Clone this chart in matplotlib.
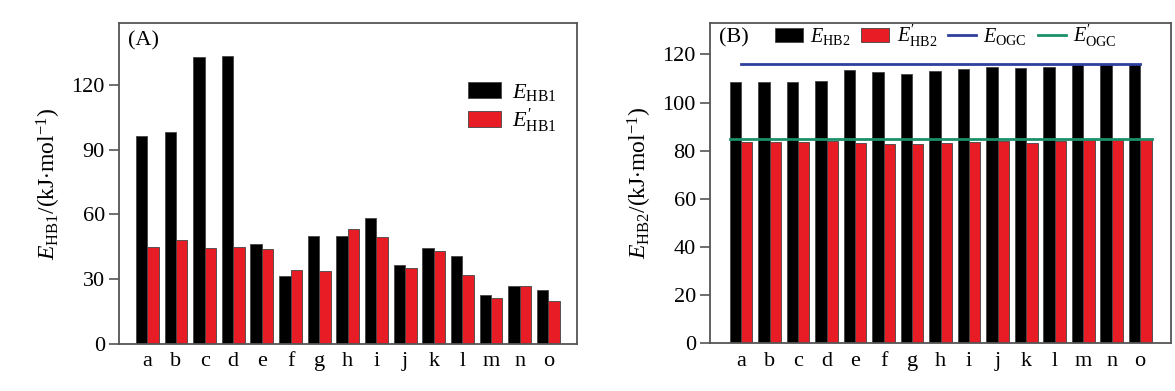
import numpy as np
import matplotlib
matplotlib.use("Agg")
import matplotlib.pyplot as plt

# categories shared by both panels
cats = list("abcdefghijklmno")

# panel (A): hydrogen bond 1 energies
e_hb1 = [96.3, 98.0, 132.8, 133.1, 46.5, 31.3, 49.9, 49.9, 58.4, 36.6, 44.6, 40.9, 22.5, 27.0, 25.0]
e_hb1_p = [44.8, 48.0, 44.5, 44.8, 44.2, 34.1, 33.7, 53.1, 49.4, 35.0, 43.2, 32.1, 21.5, 27.0, 19.9]

# panel (B): hydrogen bond 2 energies and reference levels
e_hb2 = [108.7, 108.6, 108.4, 109.1, 113.4, 112.6, 111.7, 113.2, 113.8, 114.9, 114.2, 114.9, 115.9, 115.9, 115.9]
e_hb2_p = [83.7, 83.7, 83.6, 83.9, 83.2, 82.6, 82.8, 83.2, 83.4, 83.9, 83.3, 83.9, 84.3, 84.3, 84.7]
e_ogc = 116.1
e_ogc_p = 84.7

yticks_a = [0, 30, 60, 90, 120]
yticks_b = [0, 20, 40, 60, 80, 100, 120]

# ---- style ----
plt.rcParams['font.family'] = ['Liberation Serif', 'DejaVu Serif']
plt.rcParams['mathtext.fontset'] = 'custom'
plt.rcParams['mathtext.rm'] = 'Liberation Serif'
plt.rcParams['mathtext.it'] = 'Liberation Serif:italic'
plt.rcParams['mathtext.bf'] = 'Liberation Serif:bold'
plt.rcParams['font.size'] = 16

BLACK = '#000000'
RED = '#e81c24'
EDGE = '#444444'
BLUE = '#2f3f9e'
GREEN = '#1a9068'
SPINE = '#555555'
FS = 16

fig = plt.figure(figsize=(11.75, 3.91), dpi=100)
axA = fig.add_axes([0.101, 0.120, 0.390, 0.821])
axB = fig.add_axes([0.604, 0.122, 0.393, 0.819])

x = np.arange(len(cats))
w = 0.4


def style_axes(ax):
    for s in ax.spines.values():
        s.set_color(SPINE)
        s.set_linewidth(1.3)
    ax.tick_params(axis='y', direction='out', length=7, width=1.2, color=SPINE, labelsize=FS, pad=3)
    ax.tick_params(axis='x', length=0, labelsize=FS, pad=6)
    ax.set_xticks(x)
    ax.set_xticklabels(cats)


# ---- panel A ----
axA.bar(x - w / 2, e_hb1, w, color=BLACK, edgecolor=EDGE, linewidth=0.6, label=r'$E_{\mathrm{HB1}}$')
axA.bar(x + w / 2, e_hb1_p, w, color=RED, edgecolor=EDGE, linewidth=0.6, label=r"$E^{\prime}_{\mathrm{HB1}}$")
axA.set_xlim(-1, 15)
axA.set_ylim(0, 148.5)
axA.set_yticks(yticks_a)
style_axes(axA)
axA.set_ylabel(r'$E_{\mathrm{HB1}}$/(kJ$\cdot$mol$^{-1}$)', fontsize=17, labelpad=6)
axA.text(0.02, 0.975, '(A)', transform=axA.transAxes, ha='left', va='top', fontsize=FS)
axA.legend(loc='upper right', bbox_to_anchor=(1.0, 0.88), frameon=False, fontsize=FS,
           handlelength=1.5, handleheight=0.7, handletextpad=0.5, labelspacing=0.15)

# ---- panel B ----
hb1 = axB.bar(x - w / 2, e_hb2, w, color=BLACK, edgecolor=EDGE, linewidth=0.6, label=r'$E_{\mathrm{HB2}}$')
hb2 = axB.bar(x + w / 2, e_hb2_p, w, color=RED, edgecolor=EDGE, linewidth=0.6, label=r"$E^{\prime}_{\mathrm{HB2}}$")
l1, = axB.plot([x[0], x[-1]], [e_ogc, e_ogc], color=BLUE, lw=2, label=r'$E_{\mathrm{OGC}}$')
l2, = axB.plot([x[0] - w, x[-1] + w], [e_ogc_p, e_ogc_p], color=GREEN, lw=2, label=r"$E^{\prime}_{\mathrm{OGC}}$")
axB.set_xlim(-1.1, 15.1)
axB.set_ylim(0, 133)
axB.set_yticks(yticks_b)
style_axes(axB)
axB.set_ylabel(r'$E_{\mathrm{HB2}}$/(kJ$\cdot$mol$^{-1}$)', fontsize=17, labelpad=6)
axB.text(0.02, 0.985, '(B)', transform=axB.transAxes, ha='left', va='top', fontsize=FS)
axB.legend(handles=[hb1, hb2, l1, l2], loc='upper left', bbox_to_anchor=(0.11, 1.045), ncol=4,
           frameon=False, fontsize=14.5, handlelength=1.4, handleheight=0.7, handletextpad=0.35,
           columnspacing=0.55, borderaxespad=0.3)

fig.savefig('out.png', dpi=100)
plt.close(fig)
